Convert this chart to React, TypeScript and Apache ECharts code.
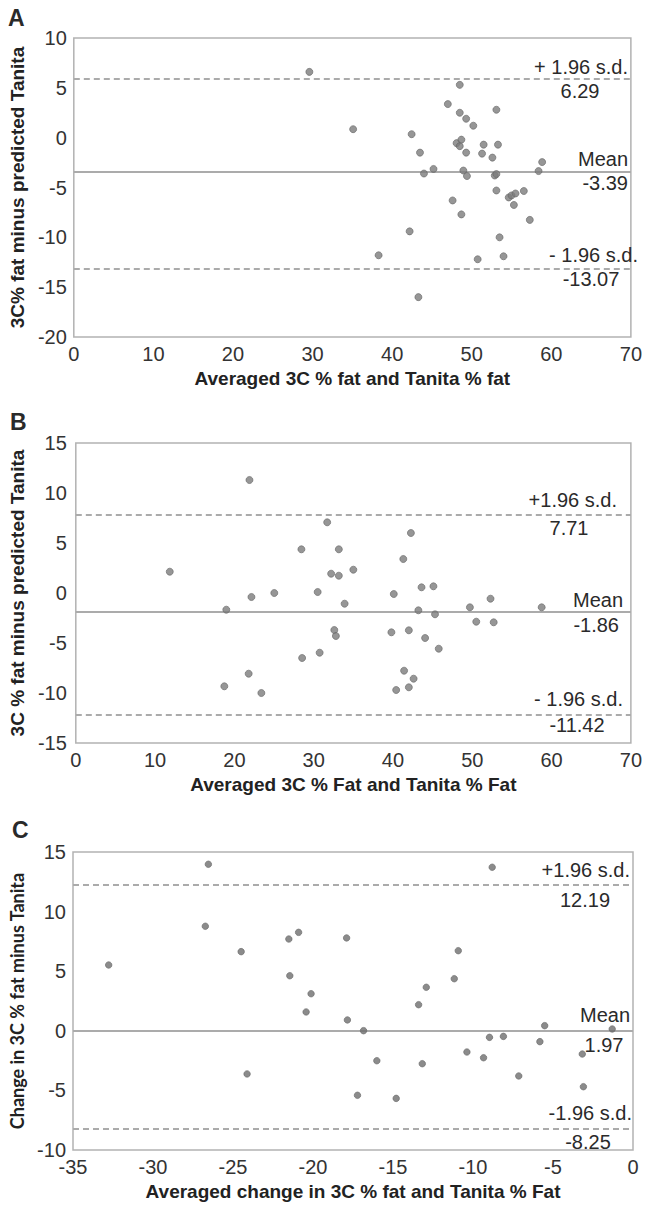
import React, { useEffect, useRef } from "react";
import * as echarts from "echarts";

// Panel A: averaged 3C % fat and Tanita % fat vs difference
const A_POINTS: number[][] = [
  [29.6, 6.6], [35.1, 0.85], [42.45, 0.35], [43.5, -1.5], [45.2, -3.14], [44.0, -3.6],
  [47.0, 3.37], [48.5, 5.3], [48.5, 2.5], [49.3, 1.9], [50.2, 1.2], [53.1, 2.8],
  [48.1, -0.55], [48.5, -0.85], [48.7, -0.2], [49.3, -1.5], [51.5, -0.7], [53.3, -0.7],
  [51.3, -1.6], [52.6, -2.0], [48.95, -3.3], [49.4, -3.85], [52.9, -3.8], [53.1, -3.65],
  [58.4, -3.35], [58.85, -2.45], [53.1, -5.3], [54.65, -6.0], [55.0, -5.8], [55.5, -5.6],
  [56.55, -5.35], [47.6, -6.3], [55.3, -6.75], [48.7, -7.7], [57.3, -8.25], [42.2, -9.4],
  [53.5, -10.0], [38.3, -11.8], [50.75, -12.2], [54.0, -11.9], [43.3, -16.0],
];
// Panel B
const B_POINTS: number[][] = [
  [21.9, 11.3], [11.85, 2.13], [31.7, 7.07], [42.26, 6.0], [28.45, 4.37], [33.17, 4.37],
  [41.3, 3.4], [32.2, 1.93], [33.17, 1.73], [35.0, 2.33], [22.15, -0.4], [25.03, 0.0],
  [30.5, 0.1], [40.1, -0.1], [43.6, 0.57], [45.1, 0.67], [33.9, -1.07], [18.98, -1.67],
  [43.2, -1.73], [45.3, -2.13], [32.6, -3.7], [32.8, -4.3], [39.8, -3.93], [42.0, -3.73],
  [44.05, -4.5], [45.77, -5.57], [30.75, -5.97], [28.54, -6.5], [21.8, -8.07], [18.73, -9.33],
  [23.4, -10.0], [41.4, -7.77], [42.6, -8.57], [40.4, -9.7], [42.0, -9.43], [49.7, -1.43],
  [52.3, -0.57], [58.75, -1.43], [50.5, -2.87], [52.7, -2.93],
];
// Panel C
const C_POINTS: number[][] = [
  [-26.54, 13.97], [-8.8, 13.72], [-26.73, 8.77], [-32.77, 5.52], [-24.49, 6.64], [-21.51, 7.7],
  [-20.9, 8.26], [-17.9, 7.79], [-10.92, 6.72], [-21.45, 4.62], [-20.12, 3.11], [-20.43, 1.58],
  [-17.85, 0.91], [-16.84, 0.01], [-11.17, 4.37], [-12.92, 3.65], [-13.4, 2.19], [-8.97, -0.55],
  [-8.1, -0.47], [-10.38, -1.78], [-9.34, -2.26], [-16.01, -2.51], [-13.17, -2.76], [-24.12, -3.62],
  [-17.22, -5.41], [-14.8, -5.67], [-5.52, 0.43], [-1.3, 0.15], [-5.82, -0.91], [-3.17, -1.95],
  [-7.14, -3.79], [-3.1, -4.69],
];

// Reference lines as drawn: [upper limit, mean, lower limit]
const A_LINES = [5.94, -3.42, -13.15];
const B_LINES = [7.8, -1.87, -12.15];
const C_LINES = [12.29, 0, -8.24];

// Line label texts: [upper name, upper value, mean name, mean value, lower name, lower value]
const A_LABELS = ["+ 1.96 s.d.", "6.29", "Mean", "-3.39", "- 1.96 s.d.", "-13.07"];
const B_LABELS = ["+1.96 s.d.", "7.71", "Mean", "-1.86", "- 1.96 s.d.", "-11.42"];
const C_LABELS = ["+1.96 s.d.", "12.19", "Mean", "1.97", "-1.96 s.d.", "-8.25"];

const PANEL_LETTERS = ["A", "B", "C"];
const X_TITLES = [
  "Averaged 3C % fat and Tanita % fat",
  "Averaged 3C % Fat and Tanita % Fat",
  "Averaged change in 3C % fat and Tanita % Fat",
];
const Y_TITLES = [
  "3C% fat minus predicted Tanita",
  "3C % fat minus predicted Tanita",
  "Change in 3C % fat minus Tanita",
];
const X_RANGES = [[0, 70], [0, 70], [-35, 0]];
const Y_RANGES = [[-20, 10], [-15, 15], [-10, 15]];

const FONT = '"Liberation Sans", Arial, sans-serif';

export default function App() {
  const ref = useRef<HTMLDivElement>(null);
  useEffect(() => {
    if (!ref.current) return;
    const chart = echarts.init(ref.current, null, { renderer: "svg" });

    const grids = [
      { left: 71, top: 38, width: 561, height: 299 },
      { left: 73, top: 443, width: 559, height: 300 },
      { left: 73, top: 852, width: 560, height: 298 },
    ].map((g) => ({ ...g, show: true, borderColor: "#b2b2b2", borderWidth: 1.5, backgroundColor: "transparent" }));

    const xAxes = X_RANGES.map((r, i) => ({
      type: "value",
      gridIndex: i,
      min: r[0],
      max: r[1],
      interval: 5 * (i === 2 ? 1 : 2),
      axisLine: { show: false },
      axisTick: { show: false },
      splitLine: { show: false },
      axisLabel: { fontSize: 20, fontFamily: FONT, color: "#333", margin: 7 },
      name: X_TITLES[i],
      nameLocation: "middle",
      nameGap: 32,
      nameTextStyle: { fontSize: 19, fontWeight: "bold", fontFamily: FONT, color: "#222" },
    }));

    const yAxes = Y_RANGES.map((r, i) => ({
      type: "value",
      gridIndex: i,
      min: r[0],
      max: r[1],
      interval: 5,
      axisLine: { show: false },
      axisTick: { show: false },
      splitLine: { show: false },
      axisLabel: { fontSize: 20, fontFamily: FONT, color: "#333", margin: i === 1 ? 9 : 7 },
      name: Y_TITLES[i],
      nameLocation: "middle",
      nameRotate: 90,
      nameGap: i === 2 ? 39 : 43,
      nameTextStyle: {
        fontSize: i === 2 ? 18 : 19,
        fontWeight: "bold",
        fontFamily: i === 2 ? "Lato, " + FONT : FONT,
        color: "#222",
      },
    }));

    const lineSets = [A_LINES, B_LINES, C_LINES];
    const pointSets = [A_POINTS, B_POINTS, C_POINTS];
    const lineStyleBase = { color: "#ababab", width: 2 };

    const series = pointSets.map((pts, i) => ({
      type: "scatter",
      xAxisIndex: i,
      yAxisIndex: i,
      data: pts,
      symbol: "circle",
      symbolSize: i === 2 ? 6.5 : 7,
      itemStyle: { color: i === 2 ? "#6e6e6e" : "#7c7c7c", borderColor: "#666", borderWidth: 0.8 },
      z: 3,
      markLine: {
        silent: true,
        symbol: "none",
        label: { show: false },
        z: 2,
        data: [
          { yAxis: lineSets[i][0], lineStyle: { ...lineStyleBase, type: [6, 4] } },
          { yAxis: lineSets[i][1], lineStyle: { ...lineStyleBase, type: "solid" } },
          { yAxis: lineSets[i][2], lineStyle: { ...lineStyleBase, type: [6, 4] } },
        ],
      },
    }));

    const txt = (text: string, x: number, y: number, align: string, size = 20, weight = "normal", family = FONT) => ({
      type: "text",
      x,
      y,
      silent: true,
      style: { text, fontSize: size, fontWeight: weight, fontFamily: family, fill: "#2a2a2a", align, verticalAlign: "middle" },
    });

    const graphic = [
      txt(PANEL_LETTERS[0], 8, 18, "left", 23, "bold"),
      txt(PANEL_LETTERS[1], 10, 422, "left", 23, "bold"),
      txt(PANEL_LETTERS[2], 12, 830, "left", 23, "bold"),
      // Panel A labels
      txt(A_LABELS[0], 628, 67, "right"),
      txt(A_LABELS[1], 580, 91, "center"),
      txt(A_LABELS[2], 628, 159, "right"),
      txt(A_LABELS[3], 628, 183, "right"),
      txt(A_LABELS[4], 638, 255, "right"),
      txt(A_LABELS[5], 591, 279, "center"),
      // Panel B labels
      txt(B_LABELS[0], 617, 500, "right"),
      txt(B_LABELS[1], 569, 528, "center"),
      txt(B_LABELS[2], 623, 600, "right"),
      txt(B_LABELS[3], 619, 625, "right"),
      txt(B_LABELS[4], 623, 699, "right"),
      txt(B_LABELS[5], 577, 725, "center"),
      // Panel C labels
      txt(C_LABELS[0], 630, 870, "right"),
      txt(C_LABELS[1], 585, 900, "center"),
      txt(C_LABELS[2], 630, 1015, "right"),
      txt(C_LABELS[3], 604, 1045, "center"),
      txt(C_LABELS[4], 632, 1113, "right"),
      txt(C_LABELS[5], 588, 1142, "center"),
    ];

    chart.setOption({
      animation: false,
      backgroundColor: "#ffffff",
      grid: grids,
      xAxis: xAxes,
      yAxis: yAxes,
      series,
      graphic,
    });
    return () => chart.dispose();
  }, []);
  return (
    <div
      ref={ref}
      style={{ position: "absolute", left: 0, top: 0, width: 645, height: 1207, background: "#fff" }}
    />
  );
}
